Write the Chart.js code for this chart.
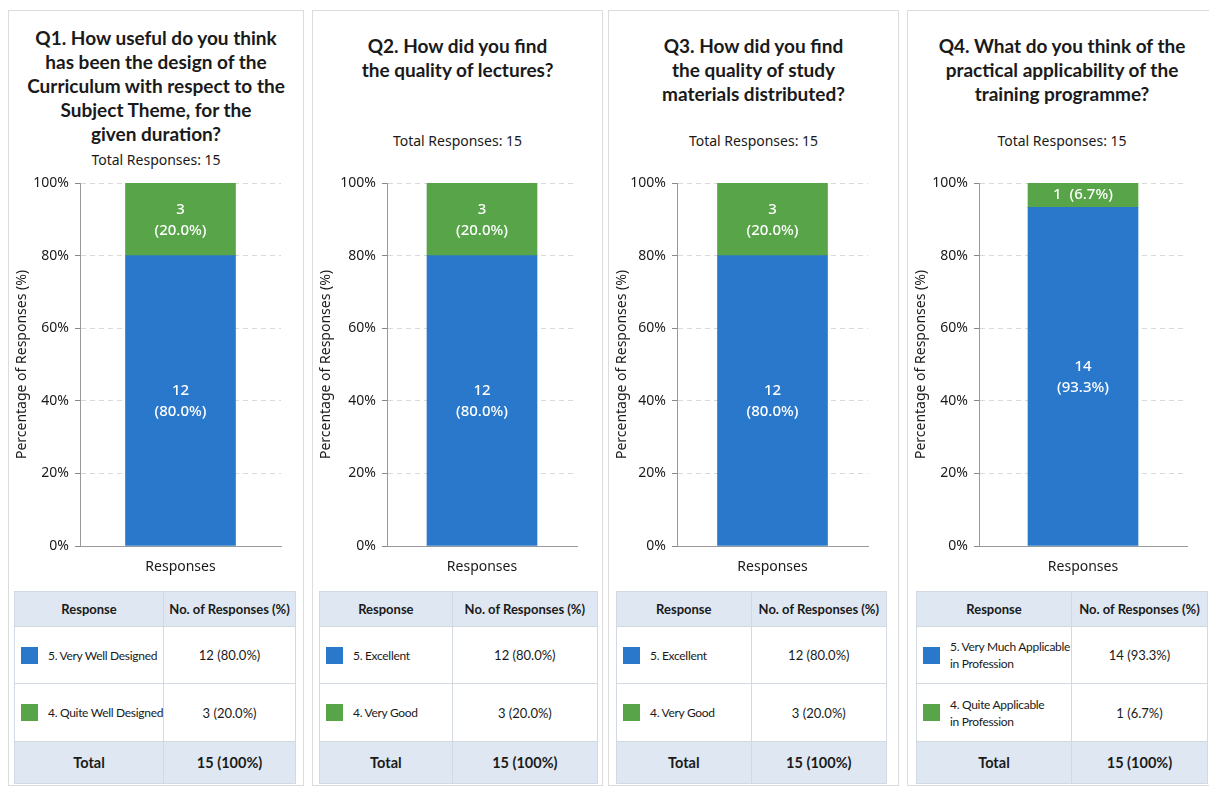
<!DOCTYPE html>
<html>
<head>
<meta charset="utf-8">
<script src="https://cdn.jsdelivr.net/npm/chart.js@4.4.0/dist/chart.umd.min.js"></script>
<style>
  body { margin: 0; background: #fff; font-family: Lato, "Noto Sans", sans-serif; color: #1a1a1a; }
  .panel { position: absolute; top: 10px; height: 776px; border: 1px solid #dcdcdc; box-sizing: border-box; background: #fff; }
  .title { position: absolute; left: 0; right: 0; text-align: center; font-weight: 700; font-size: 19px; line-height: 24px; }
  .sub { position: absolute; left: 0; right: 0; text-align: center; font-size: 14px; font-family: "Noto Sans", sans-serif; }
  .chartbox { position: absolute; left: 0; right: 0; top: 148px; height: 420px; }
  table { position: absolute; top: 580px; border-collapse: collapse; font-size: 13px; }
  td, th { border: 1px solid #d3d9e0; text-align: center; padding: 0; }
  th { background: #dfe8f2; font-size: 13px; font-weight: 700; height: 34px; }
  td.lab { text-align: left; padding-left: 6px; }
  td.lab div { display: flex; align-items: center; gap: 10px; line-height: 17px; white-space: nowrap; letter-spacing: -0.3px; font-size: 12px; }
  .sw { width: 17px; height: 17px; flex: none; }
  tr.total td { background: #dfe8f2; font-weight: 700; font-size: 14.5px; height: 41px; }
</style>
</head>
<body>
<script>
const questions = [
  'Q1. How useful do you think\nhas been the design of the\nCurriculum with respect to the\nSubject Theme, for the\ngiven duration?',
  'Q2. How did you find\nthe quality of lectures?',
  'Q3. How did you find\nthe quality of study\nmaterials distributed?',
  'Q4. What do you think of the\npractical applicability of the\ntraining programme?'
];
const categories = ['Responses'];
const topLabels = ['5. Very Well Designed', '5. Excellent', '5. Excellent', '5. Very Much Applicable\nin Profession'];
const lowLabels = ['4. Quite Well Designed', '4. Very Good', '4. Very Good', '4. Quite Applicable\nin Profession'];
const topCounts = [12, 12, 12, 14];
const topPercents = [80.0, 80.0, 80.0, 93.3];
const lowCounts = [3, 3, 3, 1];
const lowPercents = [20.0, 20.0, 20.0, 6.7];
const totals = [15, 15, 15, 15];

const blue = '#2a78cb';
const green = '#57a548';
const axisFont = '"Noto Sans", sans-serif';

// layout per panel
const panels = [
  { left: 8, width: 296, titleTop: 15, subTop: 139, axisW: 71, padR: 22, tblLeft: 5, c1: 147, c2: 135 },
  { left: 312, width: 291, titleTop: 23, subTop: 120, axisW: 74, padR: 25, tblLeft: 6, c1: 133, c2: 146 },
  { left: 608, width: 291, titleTop: 23, subTop: 120, axisW: 68, padR: 30, tblLeft: 7, c1: 135, c2: 136 },
  { left: 907, width: 310, titleTop: 23, subTop: 120, axisW: 71, padR: 29, tblLeft: 8, c1: 155, c2: 137 }
];

const segLabels = {
  id: 'segLabels',
  afterDatasetsDraw(chart) {
    const ctx = chart.ctx;
    ctx.save();
    ctx.fillStyle = '#fff';
    ctx.textAlign = 'center';
    ctx.textBaseline = 'middle';
    ctx.font = '500 15px ' + axisFont;
    chart.data.datasets.forEach((ds, di) => {
      chart.getDatasetMeta(di).data.forEach(bar => {
        const cy = (bar.y + bar.base) / 2;
        const lines = ds.segText;
        if (lines.length === 1) {
          ctx.fillText(lines[0], bar.x, cy);
        } else {
          ctx.fillText(lines[0], bar.x, cy - 10);
          ctx.fillText(lines[1], bar.x, cy + 11);
        }
      });
    });
    ctx.restore();
  }
};

panels.forEach((p, q) => {
  const panel = document.createElement('div');
  panel.className = 'panel';
  panel.style.left = p.left + 'px';
  panel.style.width = p.width + 'px';
  document.body.appendChild(panel);

  const title = document.createElement('div');
  title.className = 'title';
  title.style.top = p.titleTop + 'px';
  title.innerHTML = questions[q].replace(/\n/g, '<br>');
  panel.appendChild(title);

  const sub = document.createElement('div');
  sub.className = 'sub';
  sub.style.top = p.subTop + 'px';
  sub.textContent = 'Total Responses: ' + totals[q];
  panel.appendChild(sub);

  const box = document.createElement('div');
  box.className = 'chartbox';
  const canvas = document.createElement('canvas');
  box.appendChild(canvas);
  panel.appendChild(box);

  const lowText = lowPercents[q] < 10
    ? [lowCounts[q] + '  (' + lowPercents[q].toFixed(1) + '%)']
    : [String(lowCounts[q]), '(' + lowPercents[q].toFixed(1) + '%)'];

  new Chart(canvas, {
    type: 'bar',
    data: {
      labels: categories,
      datasets: [
        { label: topLabels[q], data: [topPercents[q]], backgroundColor: blue, barThickness: 110,
          segText: [String(topCounts[q]), '(' + topPercents[q].toFixed(1) + '%)'] },
        { label: lowLabels[q], data: [lowPercents[q]], backgroundColor: green, barThickness: 110,
          segText: lowText }
      ]
    },
    options: {
      responsive: true,
      maintainAspectRatio: false,
      animation: false,
      layout: { padding: { top: 24, right: p.padR, left: 0, bottom: 0 } },
      plugins: { legend: { display: false }, tooltip: { enabled: false } },
      scales: {
        x: {
          stacked: true,
          afterFit(s) { s.height = 33; },
          grid: { display: false, drawOnChartArea: false, drawTicks: true, tickLength: 6, tickColor: '#888' },
          border: { display: true, color: '#999', width: 1 },
          ticks: { color: '#1a1a1a', font: { size: 14, family: axisFont }, padding: 7 }
        },
        y: {
          stacked: true,
          min: 0,
          max: 100,
          afterFit(s) { s.width = p.axisW; },
          ticks: { stepSize: 20, callback: v => v + '%', color: '#1a1a1a', padding: 6,
                   font: { size: 14, family: axisFont } },
          grid: { color: '#d9d9d9', tickLength: 5, tickColor: '#888', tickBorderDash: [] },
          border: { display: true, color: '#999', width: 1, dash: [5, 4] },
          title: { display: true, text: 'Percentage of Responses (%)', color: '#1a1a1a',
                   font: { size: 14, family: axisFont }, padding: { top: 5, bottom: 0 } }
        }
      }
    },
    plugins: [segLabels]
  });

  const tbl = document.createElement('table');
  tbl.style.left = p.tblLeft + 'px';
  tbl.style.width = (p.c1 + p.c2) + 'px';
  const rowH = [57, 58];
  let html = '<colgroup><col style="width:' + p.c1 + 'px"><col style="width:' + p.c2 + 'px"></colgroup>';
  html += '<tr><th>Response</th><th>No. of Responses (%)</th></tr>';
  [[topLabels[q], topCounts[q], topPercents[q], blue], [lowLabels[q], lowCounts[q], lowPercents[q], green]].forEach((r, i) => {
    html += '<tr style="height:' + rowH[i] + 'px"><td class="lab"><div><span class="sw" style="background:' + r[3] + '"></span><span>' +
      r[0].replace(/\n/g, '<br>') + '</span></div></td><td>' + r[1] + ' (' + r[2].toFixed(1) + '%)</td></tr>';
  });
  html += '<tr class="total"><td>Total</td><td>' + totals[q] + ' (100%)</td></tr>';
  tbl.innerHTML = html;
  panel.appendChild(tbl);
});
</script>
</body>
</html>
